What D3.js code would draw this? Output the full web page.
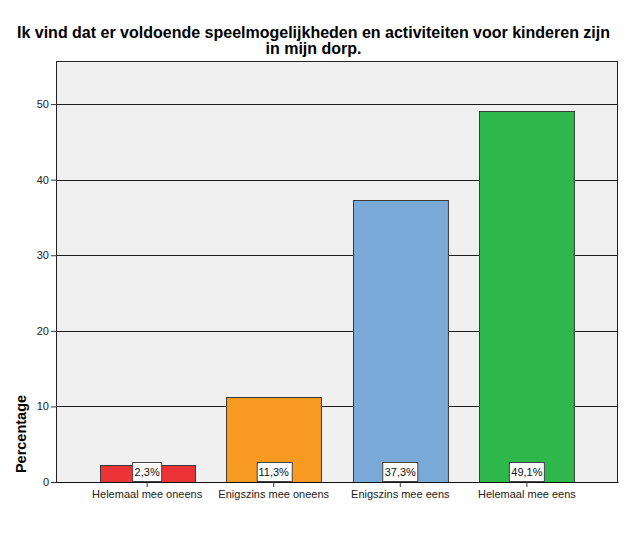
<!DOCTYPE html>
<html>
<head>
<meta charset="utf-8">
<script src="https://cdn.jsdelivr.net/npm/d3@7"></script>
<style>
  body { margin: 0; background: #fff; }
  text { font-family: Arial, "Liberation Sans", sans-serif; }
</style>
</head>
<body>
<div id="chart"></div>
<script>
// data
var categories = ["Helemaal mee oneens", "Enigszins mee oneens", "Enigszins mee eens", "Helemaal mee eens"];
var values = [2.3, 11.3, 37.3, 49.1];
var barColors = ["#ec3338", "#f89a1f", "#7aaad7", "#2eb84b"];
var yTicks = [0, 10, 20, 30, 40, 50];
var titleLines = ["Ik vind dat er voldoende speelmogelijkheden en activiteiten voor kinderen zijn", "in mijn dorp."];

var width = 626, height = 541;
var margin = {top: 61, right: 8, bottom: 59, left: 56};
var w = width - margin.left - margin.right,
    h = height - margin.top - margin.bottom;

var svg = d3.select("#chart").append("svg")
    .attr("width", width)
    .attr("height", height);

// title
svg.append("text")
    .attr("text-anchor", "middle")
    .attr("font-size", 16)
    .attr("font-weight", "bold")
    .selectAll("tspan")
    .data(titleLines)
    .enter().append("tspan")
    .attr("x", width / 2 + 0.5)
    .attr("y", function(d, i) { return 38 + i * 16; })
    .text(function(d) { return d; });

var g = svg.append("g")
    .attr("transform", "translate(" + margin.left + "," + margin.top + ")");

var x = d3.scaleBand()
    .domain(categories)
    .range([0, w])
    .paddingInner(0.25)
    .paddingOuter(0.345);

var y = d3.scaleLinear()
    .domain([0, 55.7])
    .range([h, 0]);

// plot background
g.append("rect")
    .attr("width", w)
    .attr("height", h)
    .attr("fill", "#f0f0f0");

// gridlines
g.selectAll(".grid")
    .data(yTicks.filter(function(d) { return d > 0; }))
    .enter().append("line")
    .attr("x1", 0).attr("x2", w)
    .attr("y1", function(d) { return Math.round(y(d)) + 0.5; })
    .attr("y2", function(d) { return Math.round(y(d)) + 0.5; })
    .attr("stroke", "#1a1a1a")
    .attr("stroke-width", 1);

// bars
g.selectAll(".bar")
    .data(values)
    .enter().append("rect")
    .attr("x", function(d, i) { return Math.round(x(categories[i])) + 0.5; })
    .attr("y", function(d) { return Math.round(y(d)) + 0.5; })
    .attr("width", x.bandwidth())
    .attr("height", function(d) { return h - Math.round(y(d)); })
    .attr("fill", function(d, i) { return barColors[i]; })
    .attr("stroke", "#3a3a3a")
    .attr("stroke-width", 1);

// frame
g.append("rect")
    .attr("x", 0.5).attr("y", 0.5)
    .attr("width", w - 1)
    .attr("height", h)
    .attr("fill", "none")
    .attr("stroke", "#222")
    .attr("stroke-width", 1);

// y axis
var yAxis = g.append("g")
    .call(d3.axisLeft(y).tickValues(yTicks).tickSize(5).tickSizeOuter(0).tickPadding(2))
    .attr("font-size", 11);
yAxis.select(".domain").remove();
yAxis.selectAll("line").attr("stroke", "#333");
yAxis.selectAll("text").attr("fill", "#222");

// x axis
var xAxis = g.append("g")
    .attr("transform", "translate(0," + h + ")")
    .call(d3.axisBottom(x).tickSize(5).tickSizeOuter(0).tickPadding(3))
    .attr("font-size", 11);
xAxis.select(".domain").attr("stroke", "#111");
xAxis.selectAll("line").attr("stroke", "#333");
xAxis.selectAll("text").attr("fill", "#222");

// value labels
var lab = g.selectAll(".lab")
    .data(values)
    .enter().append("g")
    .attr("transform", function(d, i) {
        return "translate(" + (x(categories[i]) + x.bandwidth() / 2) + "," + (h - 10) + ")";
    });

lab.append("text")
    .attr("text-anchor", "middle")
    .attr("dy", "0.35em")
    .attr("font-size", 11)
    .attr("fill", "#111")
    .text(function(d) { return d3.format(".1f")(d).replace(".", ",") + "%"; })
    .each(function() {
        var b = this.getBBox();
        d3.select(this.parentNode).insert("rect", "text")
            .attr("x", Math.round(b.x - 2) + 0.5)
            .attr("y", -9.5)
            .attr("width", Math.round(b.width + 4))
            .attr("height", 19)
            .attr("fill", "#fff")
            .attr("stroke", "#444");
    });

// y label
svg.append("text")
    .attr("transform", "translate(26,434) rotate(-90)")
    .attr("text-anchor", "middle")
    .attr("font-size", 14.5)
    .attr("font-weight", "bold")
    .text("Percentage");
</script>
</body>
</html>
